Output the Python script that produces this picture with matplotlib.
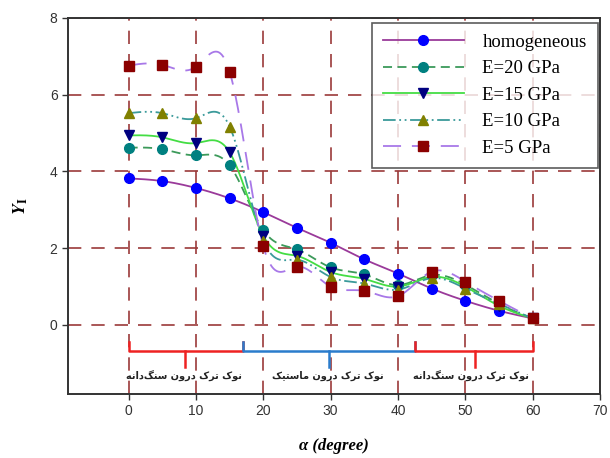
import numpy as np
import matplotlib
matplotlib.use("Agg")
import matplotlib.pyplot as plt

# ---------------------------------------------------------------
# Donnees
# ---------------------------------------------------------------
alpha = [0, 5, 10, 15, 20, 25, 30, 35, 40, 45, 50, 55, 60]

homogeneous = [3.82, 3.75, 3.57, 3.30, 2.94, 2.53, 2.14, 1.71, 1.34, 0.95, 0.63, 0.37, 0.17]
e20 = [4.62, 4.58, 4.42, 4.16, 2.47, 1.97, 1.50, 1.32, 1.04, 1.30, 1.05, 0.55, 0.17]
e15 = [4.94, 4.89, 4.74, 4.50, 2.32, 1.80, 1.38, 1.20, 1.00, 1.25, 1.00, 0.50, 0.17]
e10 = [5.52, 5.52, 5.39, 5.17, 2.20, 1.70, 1.25, 1.08, 0.92, 1.22, 0.95, 0.55, 0.17]
e5 = [6.76, 6.78, 6.73, 6.60, 2.05, 1.52, 1.00, 0.89, 0.75, 1.39, 1.13, 0.63, 0.17]

labels = ["homogeneous", "E=20 GPa", "E=15 GPa", "E=10 GPa", "E=5 GPa"]

# zones (debut, fin, centre de l'accolade) et textes persans
zones = [(0, 17, 8.4), (17, 42.5, 29.8), (42.5, 60, 51.4)]
zone_text_x = [8.2, 29.6, 50.8]
zone_colors = ["#ee2222", "#2a7ccc", "#ee2222"]

# "نوک ترک درون سنگدانه" / "نوک ترک درون ماستیک" en formes de presentation (ordre visuel)
nok = "\uFB8E\uFEEE\uFEE7"
tarak = "\uFB8E\uFEAE\uFE97"
daroon = "\uFEE5\uFEED\uFEAD\uFEA9"
sangdane = "\uFEEA\uFEE7\uFE8D\uFEA9\uFB93\uFEE8\uFEB3"
mastik = "\uFB8F\uFBFF\uFE98\uFEB3\uFE8E\uFEE3"
zone_texts = [" ".join([sangdane, daroon, tarak, nok]),
              " ".join([mastik, daroon, tarak, nok]),
              " ".join([sangdane, daroon, tarak, nok])]


def spline(x, y, n=500):
    # spline cubique naturelle pour le trace lisse (comme SigmaPlot)
    x = np.asarray(x, float)
    y = np.asarray(y, float)
    k = len(x)
    h = np.diff(x)
    A = np.zeros((k, k))
    b = np.zeros(k)
    A[0, 0] = A[-1, -1] = 1
    for i in range(1, k - 1):
        A[i, i - 1] = h[i - 1]
        A[i, i] = 2 * (h[i - 1] + h[i])
        A[i, i + 1] = h[i]
        b[i] = 3 * ((y[i + 1] - y[i]) / h[i] - (y[i] - y[i - 1]) / h[i - 1])
    c = np.linalg.solve(A, b)
    bb = (y[1:] - y[:-1]) / h - h * (2 * c[:-1] + c[1:]) / 3
    d = (c[1:] - c[:-1]) / (3 * h)
    xs = np.linspace(x[0], x[-1], n)
    idx = np.clip(np.searchsorted(x, xs, side="right") - 1, 0, k - 2)
    t = xs - x[idx]
    ys = y[idx] + bb[idx] * t + c[idx] * t ** 2 + d[idx] * t ** 3
    return xs, ys


plt.rcParams["font.family"] = ["Liberation Sans", "DejaVu Sans"]
plt.rcParams["mathtext.fontset"] = "stix"

fig = plt.figure(figsize=(6.1, 4.58), dpi=100)
ax = fig.add_axes([0.1115, 0.1397, 0.8721, 0.821])

series = [homogeneous, e20, e15, e10, e5]
line_colors = ["#9a3a9a", "#3c9a5a", "#44dd44", "#3a9a9a", "#a878e8"]
line_styles = ["-", (0, (5, 3)), "-", (0, (7, 2, 1, 2, 1, 2)), (0, (10, 6))]
marker_colors = ["#0000ff", "#008080", "#000080", "#808000", "#8b0000"]
markers = ["o", "o", "v", "^", "s"]

for vals, lc, ls, mc, mk, lab in zip(series, line_colors, line_styles,
                                     marker_colors, markers, labels):
    xs, ys = spline(alpha, vals)
    ax.plot(xs, ys, color=lc, linestyle=ls, lw=1.3, zorder=3)
    ax.plot(alpha, vals, linestyle="none", marker=mk, color=mc, ms=7, zorder=4)
    # entree de legende
    ax.plot([], [], color=lc, linestyle=ls, lw=1.3, marker=mk, mfc=mc, mec=mc,
            ms=7, label=lab)

# accolades des zones
for (x0, x1, xm), tx, col, txt in zip(zones, zone_text_x, zone_colors, zone_texts):
    ax.plot([x0, x0, x1, x1], [-0.45, -0.67, -0.67, -0.45], color=col, lw=1.8, zorder=3)
    ax.plot([xm, xm], [-0.67, -1.1], color=col, lw=1.8, zorder=3)
    ax.text(tx, -1.33, txt, ha="center", va="center", fontsize=7,
            family=["DejaVu Sans"], fontweight="bold", color="#222222", zorder=4)

ax.set_xlim(-9, 70)
ax.set_ylim(-1.8, 8)
ax.set_xticks(range(0, 71, 10))
ax.set_yticks(range(0, 9, 2))
ax.tick_params(labelsize=10, length=4, width=1, colors="#333333", labelcolor="#333333")
ax.grid(True, color="#9b3a3a", linestyle=(0, (8, 6)), lw=1.2, zorder=1)
for s in ax.spines.values():
    s.set_linewidth(1.4)
    s.set_color("#333333")

ax.set_xlabel("\u03b1 (degree)", family="Liberation Serif", fontweight="bold",
              fontstyle="italic", fontsize=12, labelpad=14)
ax.set_ylabel(r"$\mathbfit{Y}_\mathbf{I}$", fontsize=13, labelpad=14)

leg = ax.legend(loc="upper right", bbox_to_anchor=(0.996, 0.988),
                prop={"family": "Liberation Serif", "size": 13.5},
                handlelength=4.3, handletextpad=1.0, frameon=True, fancybox=False,
                edgecolor="#333333", borderaxespad=0.0, labelspacing=0.5,
                borderpad=0.6)
leg.get_frame().set_linewidth(1.2)
leg.set_zorder(5)

fig.savefig("out.png", dpi=100)
